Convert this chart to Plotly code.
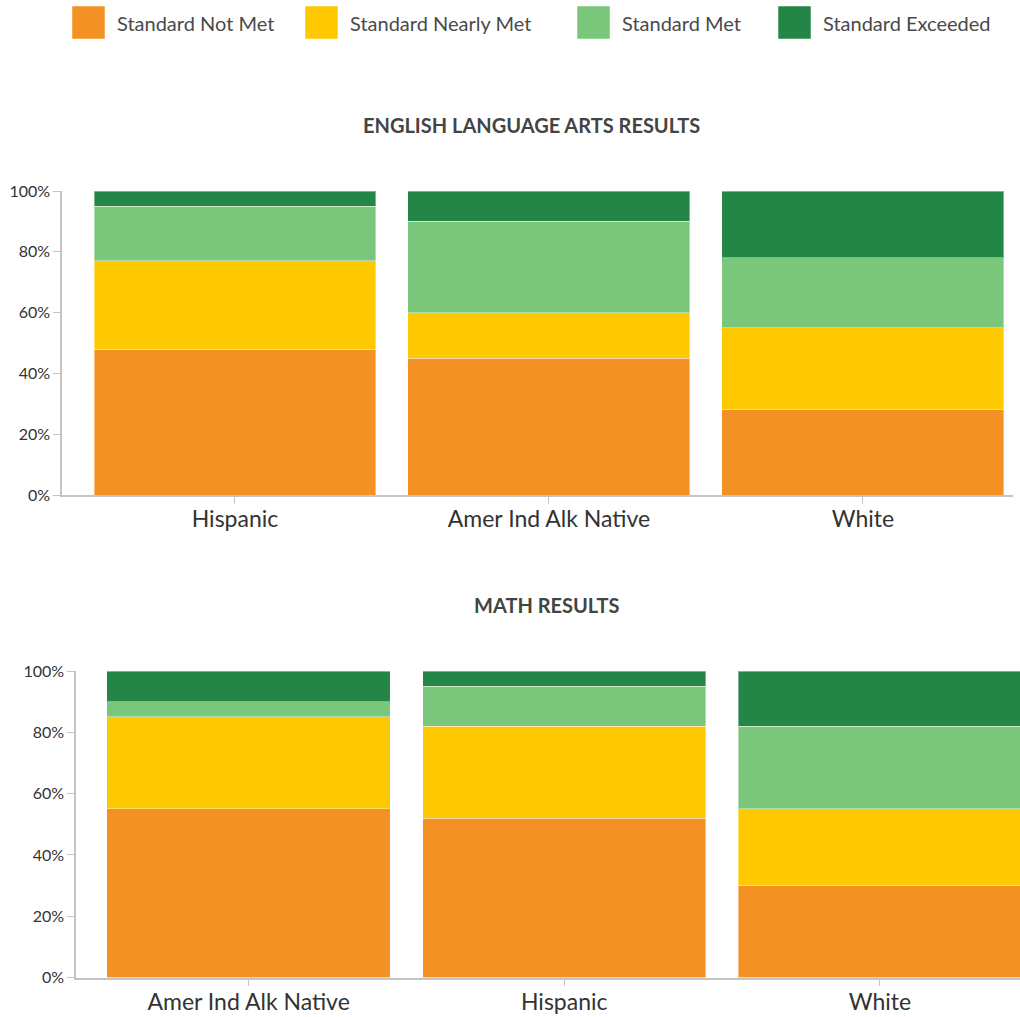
import plotly.graph_objects as go

# Achievement levels and their colours
levels = ["Standard Not Met", "Standard Nearly Met", "Standard Met", "Standard Exceeded"]
level_colors = ["#F39124", "#FFC901", "#7AC77B", "#248646"]

# English Language Arts results (percent of students per level)
ela_groups = ["Hispanic", "Amer Ind Alk Native", "White"]
ela_not_met = [48, 45, 28]
ela_nearly_met = [29, 15, 27]
ela_met = [18, 30, 23]
ela_exceeded = [5, 10, 22]

# Math results (percent of students per level)
math_groups = ["Amer Ind Alk Native", "Hispanic", "White"]
math_not_met = [55, 52, 30]
math_nearly_met = [30, 30, 25]
math_met = [5, 13, 27]
math_exceeded = [10, 5, 18]

y_ticks = [0, 20, 40, 60, 80, 100]
y_tick_text = [f"{v}%" for v in y_ticks]

W, H = 1020, 1017
FONT = "Lato"
TEXT = "#333333"
AXIS = "#c4c4c4"


def px_x(p):
    return p / W


def px_y(p):
    return 1 - p / H


fig = go.Figure()

ela_series = [ela_not_met, ela_nearly_met, ela_met, ela_exceeded]
math_series = [math_not_met, math_nearly_met, math_met, math_exceeded]

for name, color, vals in zip(levels, level_colors, ela_series):
    fig.add_trace(go.Bar(
        x=ela_groups, y=vals, name=name, xaxis="x", yaxis="y",
        marker=dict(color=color, line=dict(color="rgba(255,255,255,0.4)", width=1)),
        showlegend=False, hovertemplate="%{x}: %{y}%<extra>" + name + "</extra>",
    ))

for name, color, vals in zip(levels, level_colors, math_series):
    fig.add_trace(go.Bar(
        x=math_groups, y=vals, name=name, xaxis="x2", yaxis="y2",
        marker=dict(color=color, line=dict(color="rgba(255,255,255,0.4)", width=1)),
        showlegend=False, hovertemplate="%{x}: %{y}%<extra>" + name + "</extra>",
    ))

xaxis_common = dict(
    type="category", showline=True, linecolor=AXIS, linewidth=1.5,
    ticks="outside", ticklen=7, tickcolor=AXIS, tickwidth=1,
    ticklabelstandoff=-4,
    showgrid=False, zeroline=False, fixedrange=True, automargin=False,
    tickfont=dict(family=FONT, size=23, color=TEXT),
)
yaxis_common = dict(
    range=[0, 100], tickvals=y_ticks, ticktext=y_tick_text,
    showline=True, linecolor=AXIS, linewidth=1.5,
    ticks="outside", ticklen=7, tickcolor=AXIS, tickwidth=1,
    showgrid=False, zeroline=False, fixedrange=True, automargin=False,
    tickfont=dict(family=FONT, size=16, color=TEXT),
)

fig.update_layout(
    width=W, height=H,
    margin=dict(l=0, r=0, t=0, b=0, pad=0),
    paper_bgcolor="white", plot_bgcolor="white",
    barmode="stack", bargap=0.102,
    showlegend=False,
    font=dict(family=FONT, color=TEXT),
    xaxis=dict(**xaxis_common, domain=[px_x(62), px_x(1013)],
               range=[-0.551, 2.478], anchor="y"),
    yaxis=dict(**yaxis_common, domain=[px_y(495), px_y(191)], anchor="x"),
    xaxis2=dict(**xaxis_common, domain=[px_x(76), 1.0],
                range=[-0.547, 2.444], anchor="y2"),
    yaxis2=dict(**yaxis_common, domain=[px_y(977.5), px_y(671)], anchor="x2"),
)

# Chart titles
fig.add_annotation(text="<b>ENGLISH LANGUAGE ARTS RESULTS</b>", x=px_x(531), y=px_y(125),
                   xref="paper", yref="paper", showarrow=False,
                   font=dict(family=FONT, size=20, color="#444444"),
                   xanchor="center", yanchor="middle")
fig.add_annotation(text="<b>MATH RESULTS</b>", x=px_x(546), y=px_y(605),
                   xref="paper", yref="paper", showarrow=False,
                   font=dict(family=FONT, size=20, color="#444444"),
                   xanchor="center", yanchor="middle")

# Legend row with large square swatches
swatch_left = [72, 305, 577, 778]
for left, name, color in zip(swatch_left, levels, level_colors):
    fig.add_shape(type="rect", xref="paper", yref="paper",
                  x0=px_x(left), x1=px_x(left + 33), y0=px_y(39), y1=px_y(6),
                  fillcolor=color, line=dict(color="rgba(255,255,255,0.5)", width=1))
    fig.add_annotation(text=name, x=px_x(left + 43), y=px_y(23),
                       xref="paper", yref="paper", showarrow=False,
                       xanchor="left", yanchor="middle",
                       font=dict(family=FONT, size=20, color="#4a4a4a"))

fig.write_html("out.html")
